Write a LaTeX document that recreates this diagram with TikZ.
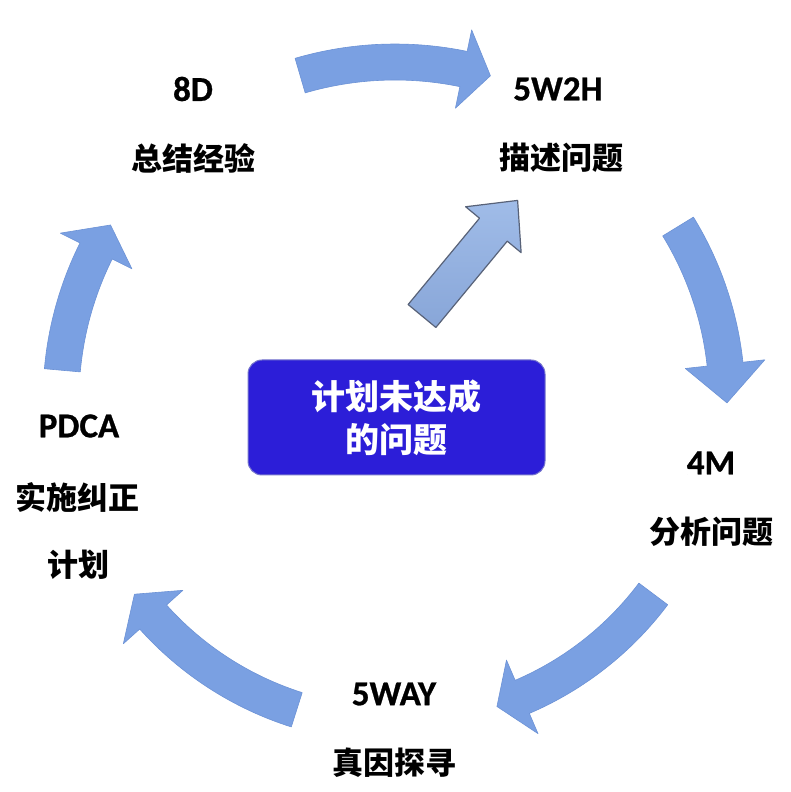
\documentclass[tikz,border=0pt]{standalone}
\usepackage{fontspec}
\setmainfont{Carlito}[BoldFont={Carlito Bold}, BoldFeatures={FakeBold=0.8}]
\newfontfamily\cjk{Noto Sans CJK SC}
\usetikzlibrary{positioning}
\tikzset{ring/.style={fill={rgb,255:red,122;green,160;blue,226}, draw={rgb,255:red,108;green,146;blue,214}, line width=0.6pt, line join=round},
  lift/.style={top color={rgb,255:red,160;green,188;blue,232}, bottom color={rgb,255:red,136;green,166;blue,216}, draw={rgb,255:red,88;green,98;blue,120}, line width=1.2pt, line join=round},
  goal/.style={fill={rgb,255:red,44;green,30;blue,216}, draw={rgb,255:red,118;green,118;blue,205}, line width=1pt, rounded corners=14pt, minimum width=297pt, minimum height=115pt, inner sep=0pt, align=center, text=white, font=\cjk\bfseries\fontsize{34}{43}\selectfont},
  tool/.style={font=\bfseries\fontsize{35}{35}\selectfont},
  task/.style={font=\cjk\bfseries\fontsize{31}{31}\selectfont}}
\newcommand{\ringarrow}[4]{\filldraw[ring] ({#1}:{#4+18}) arc[start angle=#1, end angle=#2, radius={#4+18}]
   -- ({#2}:{#4+40}) -- ({#3}:{#4}) -- ({#2}:{#4-40}) -- ({#2}:{#4-18})
   arc[start angle=#2, end angle=#1, radius={#4-18}] -- cycle;}

\begin{document}
\begin{tikzpicture}[x=1pt,y=1pt]
       \useasboundingbox (0,0) rectangle (791,792);
       \fill[white] (0,0) rectangle (791,792);
       \begin{scope}[shift={(395,392)}]
        \ringarrow{106.3}{78.3}{73.6}{338}
        \ringarrow{31.5}{6.2}{-0.5}{332}
        \ringarrow{-36.9}{-66.8}{-71.6}{323}
        \ringarrow{-107.6}{-138.1}{-143.3}{325}
        \ringarrow{174.9}{153.5}{148.4}{334}
       \end{scope}
       \begin{scope}[shift={(422,476)}, rotate=50.4]
        \draw[lift] (0,-18) -- (112,-18) -- (112,-36) -- (150,0) -- (112,36) -- (112,18) -- (0,18) -- cycle;
       \end{scope}
       \node[goal] (g) at (396.5,374.5) {计划未达成\\的问题};
       \node[tool] (d8)  at (193,703) {8D};
       \node[task] (d8t) at (193,634) {总结经验};
       \node[tool] (w2)  at (558,703) {5W2H};
       \node[task] (w2t) at (561,634) {描述问题};
       \node[tool] (m4)  at (711,329) {4M};
       \node[task] (m4t) at (711,260) {分析问题};
       \node[tool] (wy)  at (394,98) {5WAY};
       \node[task] (wyt) at (394,29) {真因探寻};
       \node[tool] (pd)  at (79,366) {PDCA};
       \node[task] (pdt) at (77,295) {实施纠正};
       \node[task] (pdu) at (78,227) {计划};
      \end{tikzpicture}
\end{document}
